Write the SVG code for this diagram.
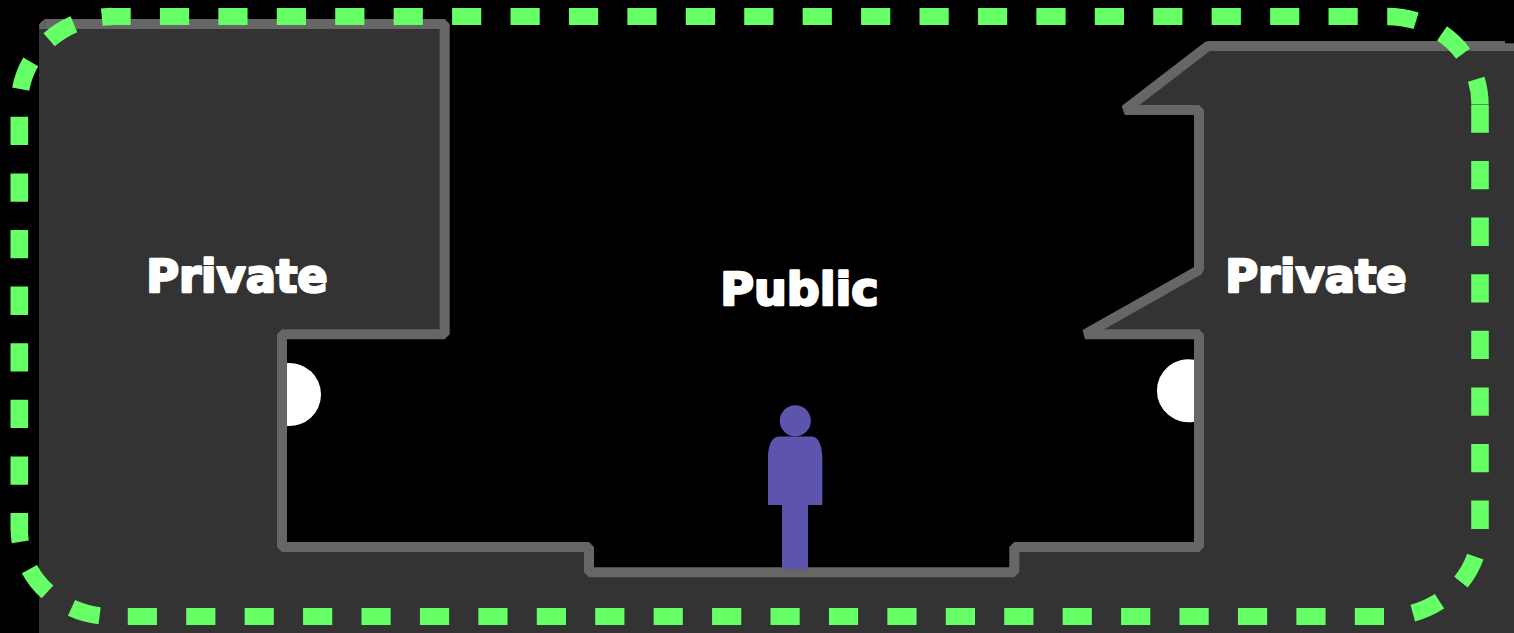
<svg xmlns="http://www.w3.org/2000/svg" width="1514" height="633" viewBox="0 0 1514 633">
<style>
.wall{fill:none;stroke:#666;stroke-width:10;stroke-linejoin:bevel}
.g{fill:none;stroke:#66ff66}
.h{stroke-width:17;stroke-dasharray:29.2 29.23}
.v{stroke-width:17.6;stroke-dasharray:28.3 28.3}
.a{stroke-width:17.3;stroke-dasharray:29.2 28.8}
.t{font-family:"DejaVu Sans",sans-serif;font-weight:700;font-size:45.5px;fill:#fff;stroke:#fff;stroke-width:2.4;stroke-linejoin:round;text-rendering:geometricPrecision}
.p{fill:#5d55ad}
</style>
<rect width="1514" height="633" fill="#000"/>
<g id="private-area">
<path fill="#333" d="M39,24H444.7V334.3H282V547H589V572.3H1014.3V547H1199V334.3H1085L1199,270V110H1124.7L1208,46H1505L1514,47V633H39Z"/>
</g>
<g id="door-left"><path fill="#fff" d="M287,363.1A31.5,31.5 0 1 1 287,425.9Z"/></g>
<g id="door-right"><path fill="#fff" d="M1194,359.7A31.5,31.5 0 1 0 1194,421.7Z"/></g>
<g id="walls">
<path class="wall" d="M44.5,24H444.7V334.3H282V547H589V572.3H1014.3V547H1199V334.3H1085L1199,270V110H1124.7L1208,46H1505"/>
<polygon fill="#666" points="39.3,24 44.7,19 44.7,29 39.3,29"/>
<rect x="1505" y="43.3" width="9" height="7.7" fill="#666"/>
</g>
<g id="person">
<circle class="p" cx="795.3" cy="420.7" r="15.5"/>
<path class="p" d="M768,505V458C768,445 772,436.5 779,436.5H812C818,436.5 822.3,445 822.3,458V505H808V569H782V505Z"/>
</g>
<g id="boundary">
<path class="g h" stroke-dashoffset="10.5" d="M112,16.5H1387.4"/>
<path class="g a" d="M1387.4,16.5A92.7,87.5 0 0 1 1480,104"/>
<path class="g v" d="M1480,104.4V529.3"/>
<path class="g a" stroke-dashoffset="30" d="M1480,529.3A93,87.2 0 0 1 1387,616.5"/>
<path class="g h" d="M1384,616.5H112"/>
<path class="g a" stroke-dashoffset="45.5" d="M112,616.5A92.7,87 0 0 1 19.3,529.5"/>
<path class="g v" stroke-dashoffset="11.3" d="M19.3,530V104"/>
<path class="g a" stroke-dashoffset="43" d="M19.3,104A92.7,87.5 0 0 1 112,16.5"/>
</g>
<g id="label-private-left"><text class="t" x="146.2" y="291.5" textLength="181.5" lengthAdjust="spacingAndGlyphs">Private</text></g>
<g id="label-public"><text class="t" x="720.2" y="304.5" textLength="158.5" lengthAdjust="spacingAndGlyphs">Public</text></g>
<g id="label-private-right"><text class="t" x="1225.2" y="291.5" textLength="181.5" lengthAdjust="spacingAndGlyphs">Private</text></g>
</svg>
